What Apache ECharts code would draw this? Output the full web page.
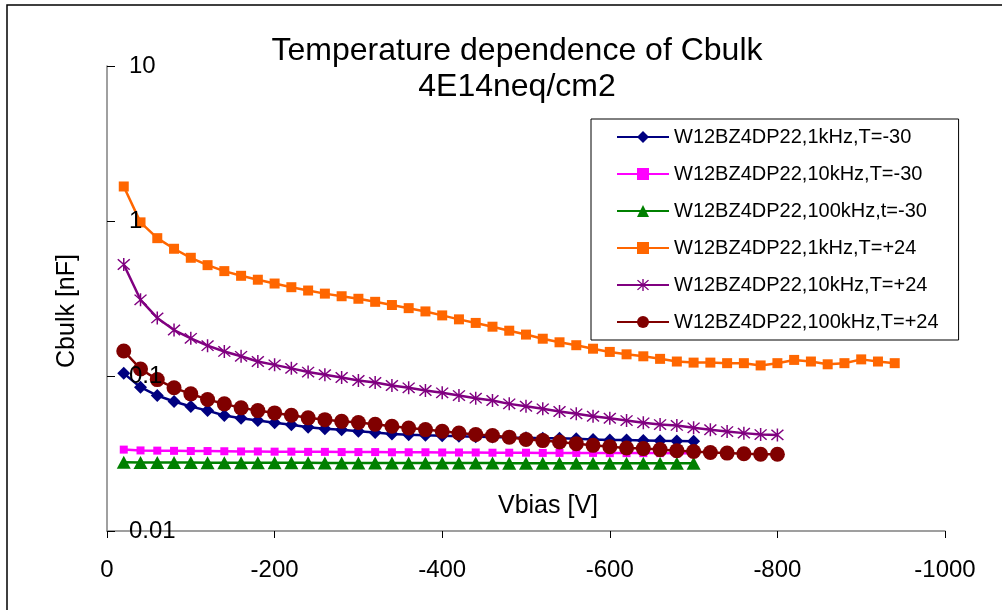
<!DOCTYPE html>
<html><head><meta charset="utf-8">
<script src="https://cdn.jsdelivr.net/npm/echarts@6/dist/echarts.min.js"></script>
<style>html,body{margin:0;padding:0;background:#fff}#c{width:1002px;height:610px}</style>
</head><body><div id="c"></div>
<script>
const titleText = 'Temperature dependence of Cbulk\n4E14neq/cm2';
const xName = 'Vbias [V]';
const yName = 'Cbulk [nF]';
const xTicks = [0, -200, -400, -600, -800, -1000];
const yTickLabels = ['0.01', '0.1', '1', '10'];

const vbias = [-20,-40,-60,-80,-100,-120,-140,-160,-180,-200,-220,-240,-260,-280,-300,-320,-340,-360,-380,-400,
  -420,-440,-460,-480,-500,-520,-540,-560,-580,-600,-620,-640,-660,-680,-700,-720,-740,-760,-780,-800,
  -820,-840,-860,-880,-900,-920,-940];

const seriesNames = ['W12BZ4DP22,1kHz,T=-30','W12BZ4DP22,10kHz,T=-30','W12BZ4DP22,100kHz,t=-30',
  'W12BZ4DP22,1kHz,T=+24','W12BZ4DP22,10kHz,T=+24','W12BZ4DP22,100kHz,T=+24'];

const c1kHzCold = [0.104,0.0847,0.0748,0.0685,0.0635,0.0598,0.0556,0.0534,0.0516,0.0499,0.0484,0.0467,0.0456,0.0450,0.0440,0.0432,0.0423,
  0.0418,0.0414,0.0411,0.0408,0.0405,0.0404,0.0401,0.0400,0.0397,0.0396,0.0393,0.0390,0.0387,0.0386,0.0384,0.0382,0.0381,0.0380];
const c10kHzCold = [0.0335,0.0331,0.0330,0.0329,0.0328,0.0328,0.0327,0.0326,0.0326,0.0325,0.0325,0.0324,0.0324,0.0323,0.0323,0.0323,0.0322,0.0322,0.0322,0.0321,
  0.0321,0.0321,0.0320,0.0320,0.0320,0.0319,0.0319,0.0319,0.0319,0.0318,0.0318,0.0318,0.0318,0.0317,0.0317];
const c100kHzCold = [0.0278,0.0277,0.0277,0.0277,0.0277,0.0276,0.0276,0.0276,0.0276,0.0276,0.0276,0.0276,0.0275,0.0275,0.0275,0.0275,0.0275,0.0275,0.0275,0.0275,
  0.0275,0.0275,0.0275,0.0274,0.0274,0.0274,0.0274,0.0274,0.0274,0.0274,0.0274,0.0274,0.0274,0.0274,0.0274];
const c1kHzWarm = [1.67,0.98,0.775,0.662,0.579,0.519,0.475,0.443,0.418,0.395,0.374,0.356,0.340,0.327,0.315,0.301,0.287,0.274,0.261,0.246,
  0.232,0.220,0.208,0.196,0.185,0.174,0.165,0.158,0.150,0.143,0.138,0.134,0.129,0.124,0.122,0.122,0.121,0.121,0.117,0.121,
  0.127,0.124,0.119,0.121,0.128,0.124,0.121];
const c10kHzWarm = [0.524,0.310,0.237,0.198,0.175,0.157,0.144,0.134,0.124,0.118,0.112,0.106,0.102,0.0978,0.0935,0.0908,0.0868,0.0839,0.0806,0.0779,
  0.0748,0.0719,0.0695,0.0661,0.0638,0.0614,0.0590,0.0570,0.0550,0.0534,0.0516,0.0499,0.0486,0.0480,0.0463,0.0450,0.0438,0.0428,0.0419,0.0417];
const c100kHzWarm = [0.145,0.111,0.0948,0.0839,0.0767,0.0705,0.0661,0.0623,0.0598,0.0578,0.0558,0.0537,0.0523,0.0510,0.0501,0.0488,0.0474,
  0.0462,0.0451,0.0440,0.0429,0.0419,0.0413,0.0403,0.0389,0.0383,0.0375,0.0366,0.0357,0.0350,0.0343,0.0340,0.0335,
  0.0330,0.0326,0.0321,0.0318,0.0315,0.0313,0.0313];

const FONT = '"Liberation Sans", Arial, sans-serif';
const starPath = 'path://M9,0L11,0L11,20L9,20Z M1.3,2.7L2.7,1.3L18.7,17.3L17.3,18.7Z M17.3,1.3L18.7,2.7L2.7,18.7L1.3,17.3Z';

function pairs(vals) { return vals.map((v, i) => [vbias[i], v]); }

const styles = [
  { color: '#000080', symbol: 'diamond', size: [13, 13] },
  { color: '#FF00FF', symbol: 'rect', size: 8 },
  { color: '#008000', symbol: 'triangle', size: [14, 13] },
  { color: '#FF6600', symbol: 'rect', size: 10 },
  { color: '#800080', symbol: starPath, size: 13 },
  { color: '#800000', symbol: 'circle', size: 15 }
];
const allVals = [c1kHzCold, c10kHzCold, c100kHzCold, c1kHzWarm, c10kHzWarm, c100kHzWarm];

const chart = echarts.init(document.getElementById('c'), null, { renderer: 'canvas' });
chart.setOption({
  animation: false,
  backgroundColor: '#ffffff',
  textStyle: { fontFamily: FONT },
  title: {
    text: titleText,
    left: 517, top: 33, padding: 0, textAlign: 'center',
    textStyle: { fontFamily: FONT, fontSize: 32, fontWeight: 'normal', color: '#000', lineHeight: 36 }
  },
  legend: {
    orient: 'vertical', left: 591, top: 119,
    padding: [8, 20, 8, 25],
    borderColor: '#000', borderWidth: 1, backgroundColor: '#fff',
    itemWidth: 52, itemHeight: 15, itemGap: 17,
    selectedMode: false,
    textStyle: { fontFamily: FONT, fontSize: 20, color: '#000', lineHeight: 20 },
    data: seriesNames
  },
  grid: { left: 107, right: 57, top: 66, bottom: 79, containLabel: false },
  xAxis: {
    type: 'value', min: -1000, max: 0, interval: 200, inverse: true,
    axisLine: { show: true, onZero: false, lineStyle: { color: '#808080', width: 1.5 } },
    axisTick: { show: true, inside: false, length: 7, lineStyle: { color: '#000' } },
    splitLine: { show: false },
    axisLabel: { fontFamily: FONT, fontSize: 24, color: '#000', margin: 27,
      formatter: v => String(xTicks.find(t => Math.abs(t - v) < 1e-6) ?? v) }
  },
  yAxis: {
    type: 'log', logBase: 10, min: 0.01, max: 10, z: 5,
    axisLine: { show: true, lineStyle: { color: '#808080', width: 1.5 } },
    axisTick: { show: true, inside: true, length: 8, lineStyle: { color: '#000' } },
    splitLine: { show: false },
    minorTick: { show: false },
    axisLabel: { inside: true, margin: 22, fontFamily: FONT, fontSize: 24, color: '#000',
      showMinLabel: true, showMaxLabel: true,
      formatter: v => yTickLabels[Math.round(Math.log10(v)) + 2] }
  },
  graphic: [
    { type: 'rect', shape: { x: 7, y: 5, width: 1000, height: 610 }, style: { fill: 'none', stroke: '#000', lineWidth: 1.5 }, silent: true, z: -1 },
    { type: 'text', x: 67, y: 311, rotation: Math.PI / 2,
      style: { text: yName, fontFamily: FONT, fontSize: 25, fill: '#000', align: 'center', verticalAlign: 'middle' } },
    { type: 'text', x: 548, y: 506,
      style: { text: xName, fontFamily: FONT, fontSize: 25, fill: '#000', align: 'center', verticalAlign: 'middle' } }
  ],
  series: allVals.map((vals, i) => ({
    name: seriesNames[i],
    type: 'line',
    data: pairs(vals),
    symbol: styles[i].symbol,
    symbolSize: styles[i].size,
    showAllSymbol: true,
    lineStyle: { color: styles[i].color, width: 2.5 },
    itemStyle: { color: styles[i].color, borderWidth: 0 },
    emphasis: { disabled: true },
    z: 2 + i * 0.01
  }))
});
</script></body></html>
